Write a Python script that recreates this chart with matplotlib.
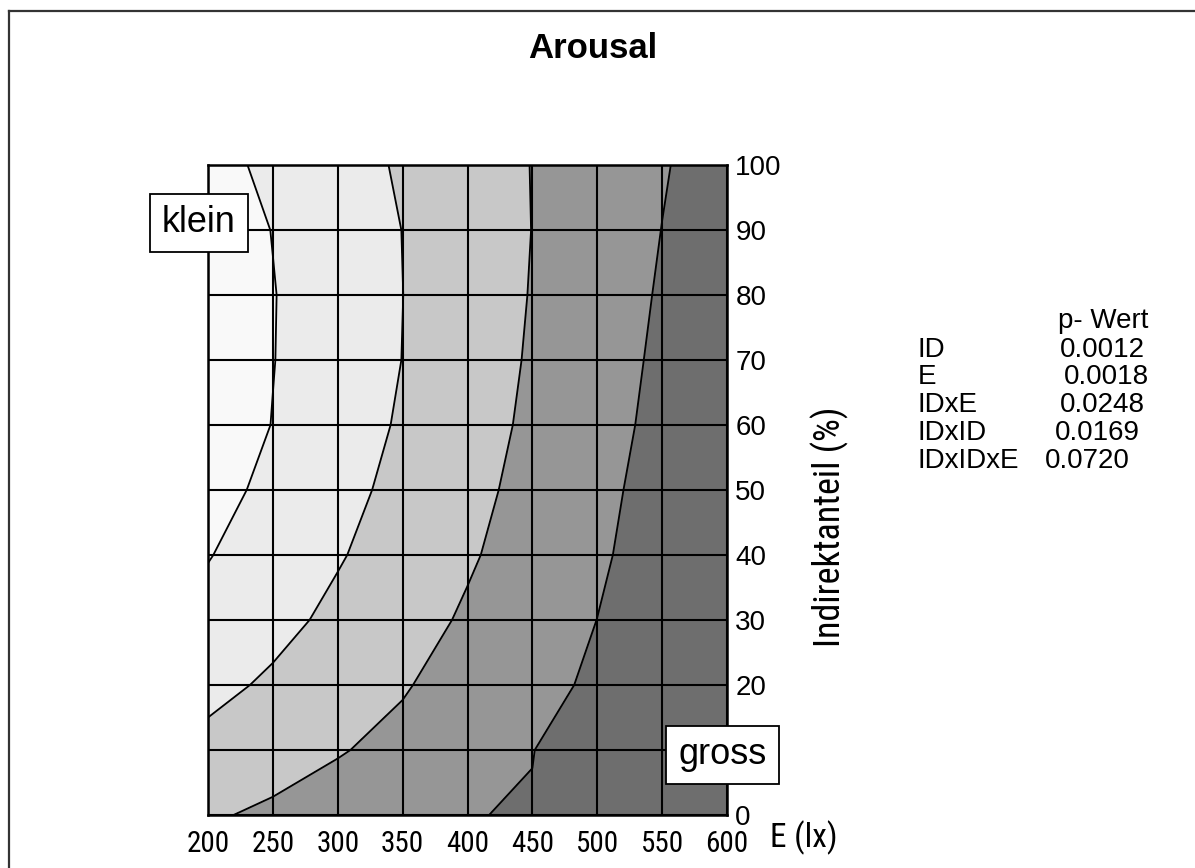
import numpy as np
import matplotlib
matplotlib.use("Agg")
import matplotlib.pyplot as plt
from matplotlib.patches import Rectangle
from matplotlib.lines import Line2D

plt.rcParams['font.family'] = ['Liberation Sans', 'DejaVu Sans']
NARROW = ['Liberation Sans Narrow', 'Roboto Condensed', 'Liberation Sans']

# ---- data ----
E_vals = [200, 250, 300, 350, 400, 450, 500, 550, 600]          # lx
ID_vals = [0, 10, 20, 30, 40, 50, 60, 70, 80, 90, 100]          # %
# response values on the grid (rows: ID 0..100, columns: E 200..600)
Z_rows = [
    [2.904, 3.148, 3.348, 3.670, 3.982, 4.036, 4.250, 4.450, 4.650],
    [2.245, 2.620, 2.948, 3.214, 3.600, 3.986, 4.370, 4.760, 5.140],
    [1.755, 2.134, 2.535, 2.936, 3.338, 3.741, 4.143, 4.546, 4.950],
    [1.280, 1.740, 2.200, 2.650, 3.110, 3.560, 4.005, 4.450, 4.900],
    [0.960, 1.450, 1.930, 2.410, 2.900, 3.390, 3.880, 4.380, 4.870],
    [0.690, 1.210, 1.730, 2.240, 2.750, 3.270, 3.790, 4.310, 4.830],
    [0.480, 1.020, 1.560, 2.100, 2.630, 3.160, 3.690, 4.220, 4.750],
    [0.470, 0.980, 1.500, 2.010, 2.550, 3.090, 3.620, 4.150, 4.680],
    [0.460, 0.970, 1.490, 1.995, 2.520, 3.040, 3.560, 4.080, 4.590],
    [0.520, 1.020, 1.510, 2.010, 2.510, 3.010, 3.500, 4.010, 4.500],
    [0.720, 1.180, 1.640, 2.100, 2.560, 3.020, 3.480, 3.940, 4.390],
]
contour_levels = [1, 2, 3, 4]
band_colors = ['#f9f9f9', '#ebebeb', '#c8c8c8', '#969696', '#6e6e6e']

terms = ['ID', 'E', 'IDxE', 'IDxID', 'IDxIDxE']
p_values = ['0.0012', '0.0018', '0.0248', '0.0169', '0.0720']

W, H = 1195, 868
fig = plt.figure(figsize=(W / 100, H / 100), dpi=100)

def fx(px):
    return px / W

def fy(py):
    return 1 - py / H

ax = fig.add_axes([fx(208), fy(815), (727 - 208) / W, (815 - 165) / H])
Z = np.array(Z_rows)
fill_levels = [-100] + contour_levels + [100]
ax.contourf(E_vals, ID_vals, Z, levels=fill_levels, colors=band_colors)
ax.contour(E_vals, ID_vals, Z, levels=contour_levels, colors='k', linewidths=1.3)

ax.set_xlim(200, 600)
ax.set_ylim(0, 100)
ax.set_xticks(E_vals)
ax.set_yticks(ID_vals)
ax.set_xticklabels([str(v) for v in E_vals])
ax.set_yticklabels([str(v) for v in ID_vals])
ax.grid(True, color='k', linewidth=1.5)
ax.set_axisbelow(False)
ax.yaxis.tick_right()
ax.tick_params(axis='both', length=0, labelsize=20)
ax.tick_params(axis='x', pad=11, labelsize=21)
ax.tick_params(axis='y', pad=6)
for lab in ax.get_xticklabels():
    lab.set_family(NARROW)
# the "10" label sits under the "gross" box in the reference
for lab in ax.get_yticklabels():
    if lab.get_text() == '10':
        lab.set_visible(False)
for s in ax.spines.values():
    s.set_linewidth(1.8)
    s.set_color('k')

# axis labels
fig.text(fx(770), fy(838), 'E (lx)', ha='left', va='center', fontsize=24, family=NARROW)
fig.text(fx(830), fy(527), 'Indirektanteil (%)', rotation=90, ha='center', va='center',
         fontsize=26, family=NARROW)

# title
fig.text(fx(593), fy(48), 'Arousal', ha='center', va='center', fontsize=25, fontweight='bold')

# boxes
def box(x0, y0, x1, y1, label):
    fig.add_artist(Rectangle((fx(x0), fy(y1)), (x1 - x0) / W, (y1 - y0) / H,
                             transform=fig.transFigure, facecolor='white',
                             edgecolor='k', linewidth=1.3, zorder=5))
    fig.text(fx((x0 + x1) / 2), fy((y0 + y1) / 2), label, ha='center', va='center',
             fontsize=26, zorder=6)

box(150, 194, 248, 252, 'klein')
box(666, 726, 779, 784, 'gross')

# p-value table
fig.text(fx(1058), fy(321), 'p- Wert', ha='left', va='center', fontsize=20)
row_y = [350, 377, 405, 433, 461]
val_x = [1060, 1064, 1060, 1055, 1045]
for t, p, yy, xx in zip(terms, p_values, row_y, val_x):
    fig.text(fx(918), fy(yy), t, ha='left', va='center', fontsize=20)
    fig.text(fx(xx), fy(yy), p, ha='left', va='center', fontsize=20)

# frame lines of the picture (top and left)
fig.add_artist(Line2D([fx(9), 1.0], [fy(11), fy(11)], transform=fig.transFigure,
                      color='#333333', linewidth=1.6))
fig.add_artist(Line2D([fx(9), fx(9)], [fy(11), 0.0], transform=fig.transFigure,
                      color='#333333', linewidth=1.6))

fig.savefig('out.png', dpi=100)
